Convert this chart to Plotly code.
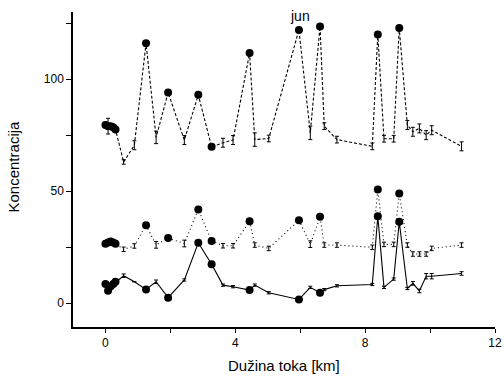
import plotly.graph_objects as go

# shared sampling sites along the river (km)
sites_km = [0.0, 0.08, 0.16, 0.24, 0.31, 0.56, 0.89, 1.25, 1.56, 1.93, 2.43, 2.86,
            3.27, 3.62, 3.93, 4.44, 4.60, 5.03, 5.96, 6.31, 6.61, 6.74, 7.13, 8.22,
            8.39, 8.58, 8.88, 9.05, 9.30, 9.47, 9.67, 9.88, 10.05, 10.97]
# 1 = filled circle marker at this site, 0 = error bar only
dot_flag = [1, 1, 1, 1, 1, 0, 0, 1, 0, 1, 0, 1,
            1, 0, 0, 1, 0, 0, 1, 0, 1, 0, 0, 0,
            1, 0, 0, 1, 0, 0, 0, 0, 0, 0]

top_vals = [79.5, 79, 79, 78.5, 77.5, 63, 70.5, 116, 74, 94, 72.8, 93,
            69.8, 71.6, 72.8, 111.7, 73, 73.5, 122, 76, 123.5, 79, 73, 70,
            120, 73.4, 73.4, 122.8, 79.5, 76.5, 78, 75, 77.2, 70]
top_err = [0, 3.5, 0, 0, 0, 1, 2, 0, 2.8, 0, 2, 0,
           0, 2, 2, 0, 3, 1.5, 0, 3, 0, 1.5, 1.5, 1.5,
           0, 1.5, 1.5, 0, 2, 2, 2, 2, 2, 2]

mid_vals = [26.5, 27, 27.5, 27, 26.5, 24, 25.5, 34.8, 26, 29, 26.6, 41.8,
            27.7, 25.6, 25.6, 36.5, 25.9, 24.4, 37, 26.3, 38.5, 25.9, 25.9, 24.9,
            50.7, 26.2, 26.2, 48.9, 25.9, 21.9, 21.9, 21.9, 24.4, 25.9]
mid_err = [0, 0, 0, 0, 0, 1, 1, 0, 1.5, 0, 1.5, 0,
           0, 1, 1, 0, 1, 1, 0, 1.5, 0, 1, 1, 1,
           0, 1, 1, 0, 1, 1, 1, 1, 1, 1]

low_vals = [8.5, 5.5, 7.5, 8.5, 9.5, 12.2, 9.5, 6.1, 9.5, 2.4, 10.3, 26.9,
            17.3, 8, 7.3, 5.8, 8, 4.6, 1.6, 7, 4.6, 6, 7.7, 8.3,
            38.8, 7, 10.7, 36.3, 6.5, 8.8, 5.4, 12, 12, 13.2]
low_err = [0, 0, 0, 0, 0, 0.8, 0, 0, 0.8, 0, 0.5, 0,
           0, 0.5, 0.5, 0, 0.5, 0.5, 0, 0.5, 0, 0.5, 0.5, 0.5,
           0, 0.5, 0.5, 0, 0.5, 0.8, 0.8, 1.2, 1.2, 0.8]

x_ticks = [0, 2, 4, 6, 8, 10, 12]
x_ticklabels = ["0", "", "4", "", "8", "", "12"]
y_ticks = [0, 25, 50, 75, 100, 125]
y_ticklabels = ["0", "", "50", "", "100", ""]

FONT = "Liberation Sans, Arial, sans-serif"

fig = go.Figure()
for vals, err, dash in [(top_vals, top_err, "3px,2px"),
                        (mid_vals, mid_err, "1px,3px"),
                        (low_vals, low_err, "solid")]:
    fig.add_trace(go.Scatter(
        x=sites_km, y=vals, mode="lines",
        line=dict(color="black", width=1.1, dash=dash),
        error_y=dict(type="data", array=err, visible=True, color="black",
                     thickness=1, width=2),
        showlegend=False, cliponaxis=False,
    ))
    dx = [x for x, f in zip(sites_km, dot_flag) if f]
    dy = [y for y, f in zip(vals, dot_flag) if f]
    fig.add_trace(go.Scatter(
        x=dx, y=dy, mode="markers",
        marker=dict(color="black", size=8, opacity=1, line=dict(width=0)),
        showlegend=False, cliponaxis=False,
    ))

fig.add_annotation(x=6.0, y=128.0, text="jun", showarrow=False, yanchor="middle",
                   font=dict(family=FONT, size=14, color="black"))
fig.add_annotation(x=0.5, y=0, xref="paper", yref="paper", text="Dužina toka [km]",
                   showarrow=False, xanchor="center", yanchor="middle", yshift=-38,
                   font=dict(family=FONT, size=15, color="black"))
fig.add_annotation(x=0, y=0.5, xref="paper", yref="paper", text="Koncentracija",
                   showarrow=False, xanchor="center", yanchor="middle", textangle=-90,
                   xshift=-60, yshift=3,
                   font=dict(family=FONT, size=15, color="black"))

fig.update_layout(
    width=504, height=378,
    margin=dict(l=73, r=9, t=12, b=51),
    paper_bgcolor="white", plot_bgcolor="white",
    font=dict(family=FONT, size=12, color="black"),
    xaxis=dict(range=[-1, 12], tickvals=x_ticks, ticktext=x_ticklabels,
               showgrid=False, zeroline=False, showline=True, linecolor="black",
               linewidth=1.5, ticks="outside", ticklen=4, tickcolor="black",
               automargin=False),
    yaxis=dict(range=[-10.7, 130], tickvals=y_ticks, ticktext=y_ticklabels,
               showgrid=False, zeroline=False, showline=True, linecolor="black",
               linewidth=1.5, ticks="outside", ticklen=5, tickcolor="black",
               automargin=False),
)

fig.write_html("out.html")
